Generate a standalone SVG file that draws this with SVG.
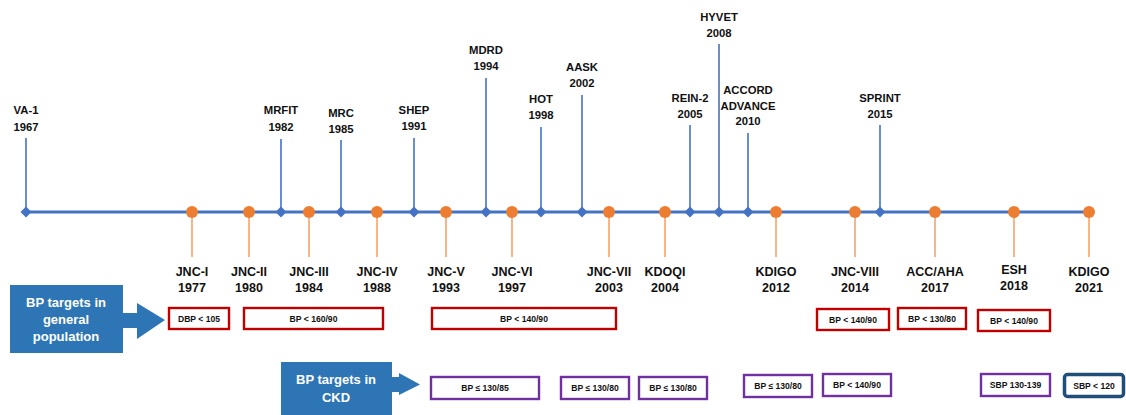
<svg xmlns="http://www.w3.org/2000/svg" width="1126" height="415" viewBox="0 0 1126 415">
<style>
text{font-family:"Liberation Sans",Arial,sans-serif;font-weight:bold;text-anchor:middle}
.tl{font-size:11.3px;fill:#111}
.ol{font-size:12.5px;fill:#111}
.bt{font-size:8.6px;fill:#111}
.ct{font-size:13px;fill:#fff}
.bl{stroke:#4472C4;stroke-width:1.6;fill:none}
.orl{stroke:#F4A46A;stroke-width:1.6;fill:none}
.dia{fill:#4472C4}
.dot{fill:#ED7D31}
.rb{fill:#fff;stroke:#C00000;stroke-width:2.4}
.pb{fill:#fff;stroke:#7030A0;stroke-width:2.4}
.call{fill:#2E75B6}
</style>
<defs>
<path id="dm" d="M0,-5.5 L5.5,0 L0,5.5 L-5.5,0 Z"/>
</defs>
<g id="connectors">
<line x1="26" y1="212" x2="1089" y2="212" stroke="#4472C4" stroke-width="3"/>
<line class="bl" x1="26" y1="138" x2="26" y2="212"/>
<line class="bl" x1="281" y1="139" x2="281" y2="212"/>
<line class="bl" x1="341" y1="140" x2="341" y2="212"/>
<line class="bl" x1="414" y1="138" x2="414" y2="212"/>
<line class="bl" x1="486" y1="78" x2="486" y2="212"/>
<line class="bl" x1="541" y1="127" x2="541" y2="212"/>
<line class="bl" x1="582" y1="95" x2="582" y2="212"/>
<line class="bl" x1="690" y1="125" x2="690" y2="212"/>
<line class="bl" x1="719" y1="44" x2="719" y2="212"/>
<line class="bl" x1="748" y1="133" x2="748" y2="212"/>
<line class="bl" x1="880" y1="125" x2="880" y2="212"/>
<line class="orl" x1="192" y1="212" x2="192" y2="257"/>
<line class="orl" x1="249" y1="212" x2="249" y2="257"/>
<line class="orl" x1="309" y1="212" x2="309" y2="257"/>
<line class="orl" x1="377" y1="212" x2="377" y2="257"/>
<line class="orl" x1="446" y1="212" x2="446" y2="257"/>
<line class="orl" x1="512" y1="212" x2="512" y2="257"/>
<line class="orl" x1="609" y1="212" x2="609" y2="257"/>
<line class="orl" x1="665" y1="212" x2="665" y2="257"/>
<line class="orl" x1="776" y1="212" x2="776" y2="257"/>
<line class="orl" x1="855" y1="212" x2="855" y2="257"/>
<line class="orl" x1="935" y1="212" x2="935" y2="257"/>
<line class="orl" x1="1014" y1="212" x2="1014" y2="257"/>
<line class="orl" x1="1089" y1="212" x2="1089" y2="257"/>
</g>
<g id="trials">
<g id="va1"><use href="#dm" class="dia" x="26" y="212"/><text class="tl" x="26" y="114">VA-1</text><text class="tl" x="26" y="131">1967</text></g>
<g id="mrfit"><use href="#dm" class="dia" x="281" y="212"/><text class="tl" x="281" y="114">MRFIT</text><text class="tl" x="281" y="131">1982</text></g>
<g id="mrc"><use href="#dm" class="dia" x="341" y="212"/><text class="tl" x="341" y="117">MRC</text><text class="tl" x="341" y="133">1985</text></g>
<g id="shep"><use href="#dm" class="dia" x="414" y="212"/><text class="tl" x="414" y="114">SHEP</text><text class="tl" x="414" y="130">1991</text></g>
<g id="mdrd"><use href="#dm" class="dia" x="486" y="212"/><text class="tl" x="486" y="54">MDRD</text><text class="tl" x="486" y="70">1994</text></g>
<g id="hot"><use href="#dm" class="dia" x="541" y="212"/><text class="tl" x="541" y="103">HOT</text><text class="tl" x="541" y="119">1998</text></g>
<g id="aask"><use href="#dm" class="dia" x="582" y="212"/><text class="tl" x="582" y="71">AASK</text><text class="tl" x="582" y="87">2002</text></g>
<g id="rein2"><use href="#dm" class="dia" x="690" y="212"/><text class="tl" x="690" y="102">REIN-2</text><text class="tl" x="690" y="118">2005</text></g>
<g id="hyvet"><use href="#dm" class="dia" x="719" y="212"/><text class="tl" x="719" y="21">HYVET</text><text class="tl" x="719" y="37">2008</text></g>
<g id="accord"><use href="#dm" class="dia" x="748" y="212"/><text class="tl" x="748" y="94">ACCORD</text><text class="tl" x="748" y="109.5">ADVANCE</text><text class="tl" x="748" y="125">2010</text></g>
<g id="sprint"><use href="#dm" class="dia" x="880" y="212"/><text class="tl" x="880" y="102">SPRINT</text><text class="tl" x="880" y="117.5">2015</text></g>
</g>
<g id="guidelines">
<g id="jnc1"><circle class="dot" cx="192" cy="212" r="6"/><text class="ol" x="192" y="276">JNC-I</text><text class="ol" x="192" y="292">1977</text></g>
<g id="jnc2"><circle class="dot" cx="249" cy="212" r="6"/><text class="ol" x="249" y="276">JNC-II</text><text class="ol" x="249" y="292">1980</text></g>
<g id="jnc3"><circle class="dot" cx="309" cy="212" r="6"/><text class="ol" x="309" y="276">JNC-III</text><text class="ol" x="309" y="292">1984</text></g>
<g id="jnc4"><circle class="dot" cx="377" cy="212" r="6"/><text class="ol" x="377" y="276">JNC-IV</text><text class="ol" x="377" y="292">1988</text></g>
<g id="jnc5"><circle class="dot" cx="446" cy="212" r="6"/><text class="ol" x="446" y="276">JNC-V</text><text class="ol" x="446" y="292">1993</text></g>
<g id="jnc6"><circle class="dot" cx="512" cy="212" r="6"/><text class="ol" x="512" y="276">JNC-VI</text><text class="ol" x="512" y="292">1997</text></g>
<g id="jnc7"><circle class="dot" cx="609" cy="212" r="6"/><text class="ol" x="609" y="276">JNC-VII</text><text class="ol" x="609" y="292">2003</text></g>
<g id="kdoqi"><circle class="dot" cx="665" cy="212" r="6"/><text class="ol" x="665" y="276">KDOQI</text><text class="ol" x="665" y="292">2004</text></g>
<g id="kdigo2012"><circle class="dot" cx="776" cy="212" r="6"/><text class="ol" x="776" y="276">KDIGO</text><text class="ol" x="776" y="292">2012</text></g>
<g id="jnc8"><circle class="dot" cx="855" cy="212" r="6"/><text class="ol" x="855" y="276">JNC-VIII</text><text class="ol" x="855" y="292">2014</text></g>
<g id="accaha"><circle class="dot" cx="935" cy="212" r="6"/><text class="ol" x="935" y="276">ACC/AHA</text><text class="ol" x="935" y="292">2017</text></g>
<g id="esh"><circle class="dot" cx="1014" cy="212" r="6"/><text class="ol" x="1014" y="274">ESH</text><text class="ol" x="1014" y="290">2018</text></g>
<g id="kdigo2021"><circle class="dot" cx="1089" cy="212" r="6"/><text class="ol" x="1089" y="276">KDIGO</text><text class="ol" x="1089" y="292">2021</text></g>
</g>
<g id="callout-general">
<path class="call" d="M10,285 H123 V313 H137 V303 L165,320 L137,339 V328 H123 V353 H10 Z"/>
<text class="ct" x="66" y="307">BP targets in</text>
<text class="ct" x="66" y="324">general</text>
<text class="ct" x="66" y="341">population</text>
</g>
<g id="callout-ckd">
<path class="call" d="M281,362 H392 V377 H399 V373 L420,384.5 L399,395 V392 H392 V415 H281 Z"/>
<text class="ct" x="336" y="384">BP targets in</text>
<text class="ct" x="336" y="402">CKD</text>
</g>
<g id="general-targets">
<g id="g1"><rect class="rb" x="169" y="308" width="60" height="21"/><text class="bt" x="199" y="321.5">DBP &lt; 105</text></g>
<g id="g2"><rect class="rb" x="244" y="308" width="139" height="21"/><text class="bt" x="313.5" y="321.5">BP &lt; 160/90</text></g>
<g id="g3"><rect class="rb" x="432" y="308" width="184" height="21"/><text class="bt" x="524" y="321.5">BP &lt; 140/90</text></g>
<g id="g4"><rect class="rb" x="817" y="309" width="72" height="21"/><text class="bt" x="853" y="322.5">BP &lt; 140/90</text></g>
<g id="g5"><rect class="rb" x="898" y="308" width="68" height="21"/><text class="bt" x="932" y="321.5">BP &lt; 130/80</text></g>
<g id="g6"><rect class="rb" x="978" y="310" width="72" height="21"/><text class="bt" x="1014" y="323.5">BP &lt; 140/90</text></g>
</g>
<g id="ckd-targets">
<g id="c1"><rect class="pb" x="431" y="377" width="108" height="22"/><text class="bt" x="485" y="391">BP ≤ 130/85</text></g>
<g id="c2"><rect class="pb" x="561" y="377" width="68" height="22"/><text class="bt" x="595" y="391">BP ≤ 130/80</text></g>
<g id="c3"><rect class="pb" x="639" y="377" width="68" height="22"/><text class="bt" x="673" y="391">BP ≤ 130/80</text></g>
<g id="c4"><rect class="pb" x="744" y="375" width="68" height="22"/><text class="bt" x="778" y="389">BP ≤ 130/80</text></g>
<g id="c5"><rect class="pb" x="823" y="374" width="68" height="22"/><text class="bt" x="857" y="388">BP &lt; 140/90</text></g>
<g id="c6"><rect class="pb" x="981" y="374" width="69" height="22"/><text class="bt" x="1015.5" y="388">SBP 130-139</text></g>
<g id="c7"><rect x="1064.5" y="374.5" width="59" height="22" rx="3" fill="#fff" stroke="#1F4E79" stroke-width="3.5"/><text class="bt" x="1094" y="388.5">SBP &lt; 120</text></g>
</g>
</svg>
